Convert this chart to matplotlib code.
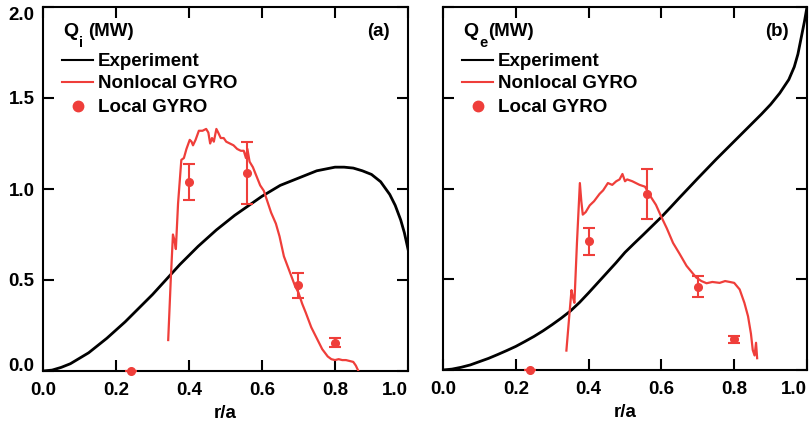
import matplotlib
matplotlib.use("Agg")
import matplotlib.pyplot as plt

plt.rcParams['font.family'] = ['Liberation Sans', 'DejaVu Sans']
plt.rcParams['font.weight'] = 'bold'

RED = '#EF3E3A'

# ---- Panel (a): ion heat flux ----
exp_a_r = [0, 0.025, 0.05, 0.075, 0.1, 0.125, 0.15, 0.175, 0.2, 0.225, 0.25, 0.275, 0.3,
           0.325, 0.35, 0.375, 0.4, 0.425, 0.45, 0.475, 0.5, 0.525, 0.55, 0.575, 0.6,
           0.625, 0.65, 0.675, 0.7, 0.725, 0.75, 0.775, 0.8, 0.825, 0.85, 0.875, 0.9,
           0.925, 0.95, 0.965, 0.98, 0.99, 1.0]
exp_a_q = [0, 0.005, 0.02, 0.04, 0.07, 0.10, 0.14, 0.18, 0.225, 0.27, 0.32, 0.37, 0.42,
           0.475, 0.53, 0.585, 0.635, 0.685, 0.73, 0.775, 0.815, 0.855, 0.89, 0.925, 0.96,
           0.99, 1.02, 1.04, 1.06, 1.08, 1.10, 1.11, 1.12, 1.12, 1.115, 1.10, 1.08,
           1.04, 0.97, 0.91, 0.83, 0.76, 0.67]

gyro_a_r = [0.343, 0.350, 0.356, 0.360, 0.364, 0.370, 0.379, 0.386, 0.393, 0.402, 0.407,
            0.411, 0.418, 0.427, 0.437, 0.447, 0.453, 0.458, 0.463, 0.468, 0.475, 0.480,
            0.487, 0.495, 0.502, 0.512, 0.522, 0.532, 0.542, 0.550, 0.556, 0.560, 0.566,
            0.575, 0.585, 0.595, 0.605, 0.615, 0.625, 0.638, 0.648, 0.660, 0.675, 0.690,
            0.700, 0.710, 0.720, 0.735, 0.750, 0.765, 0.780, 0.790, 0.800, 0.810, 0.820,
            0.830, 0.840, 0.850, 0.857, 0.864]
gyro_a_q = [0.17, 0.50, 0.75, 0.72, 0.67, 0.92, 1.16, 1.17, 1.22, 1.27, 1.26,
            1.24, 1.27, 1.32, 1.32, 1.33, 1.31, 1.25, 1.28, 1.26, 1.33, 1.31,
            1.28, 1.28, 1.26, 1.25, 1.24, 1.22, 1.21, 1.21, 1.17, 1.22, 1.15,
            1.12, 1.07, 1.02, 0.99, 0.93, 0.87, 0.81, 0.74, 0.63, 0.55, 0.47,
            0.43, 0.37, 0.32, 0.24, 0.18, 0.12, 0.08, 0.065, 0.06, 0.065, 0.06,
            0.06, 0.055, 0.05, 0.03, 0.0]

loc_a_r = [0.24, 0.40, 0.56, 0.70, 0.80]
loc_a_q = [0.0, 1.04, 1.09, 0.47, 0.155]
loc_a_err = [0.0, 0.10, 0.17, 0.07, 0.025]

# ---- Panel (b): electron heat flux ----
exp_b_r = [0, 0.025, 0.05, 0.075, 0.1, 0.125, 0.15, 0.175, 0.2, 0.225, 0.25, 0.275, 0.3,
           0.325, 0.35, 0.375, 0.4, 0.425, 0.45, 0.475, 0.5, 0.525, 0.55, 0.575, 0.6,
           0.625, 0.65, 0.675, 0.7, 0.725, 0.75, 0.775, 0.8, 0.825, 0.85, 0.875, 0.9,
           0.925, 0.95, 0.965, 0.975, 0.985, 0.993, 1.0]
exp_b_q = [0, 0.005, 0.015, 0.028, 0.046, 0.064, 0.085, 0.107, 0.13, 0.157, 0.185, 0.216,
           0.25, 0.286, 0.325, 0.372, 0.425, 0.48, 0.535, 0.59, 0.648, 0.697, 0.745, 0.794,
           0.843, 0.896, 0.95, 1.003, 1.056, 1.108, 1.16, 1.21, 1.26, 1.31, 1.36, 1.41,
           1.463, 1.525, 1.60, 1.67, 1.74, 1.84, 1.92, 2.0]

gyro_b_r = [0.339, 0.347, 0.353, 0.357, 0.361, 0.368, 0.376, 0.380, 0.384, 0.392, 0.403,
            0.415, 0.430, 0.440, 0.453, 0.465, 0.476, 0.485, 0.493, 0.500, 0.506, 0.520,
            0.540, 0.555, 0.568, 0.585, 0.600, 0.615, 0.632, 0.650, 0.669, 0.685, 0.696,
            0.710, 0.724, 0.740, 0.760, 0.775, 0.788, 0.800, 0.815, 0.828, 0.838, 0.846,
            0.851, 0.856, 0.860, 0.863]
gyro_b_q = [0.107, 0.30, 0.44, 0.40, 0.37, 0.70, 1.03, 0.93, 0.856, 0.87, 0.907,
            0.93, 0.97, 0.99, 1.03, 1.02, 1.04, 1.05, 1.08, 1.04, 1.05, 1.04,
            1.02, 1.01, 0.963, 0.91, 0.843, 0.78, 0.70, 0.64, 0.574, 0.535, 0.509,
            0.49, 0.478, 0.485, 0.48, 0.49, 0.485, 0.48, 0.444, 0.37, 0.296, 0.20,
            0.11, 0.08, 0.15, 0.065]

loc_b_r = [0.24, 0.40, 0.56, 0.70, 0.80]
loc_b_q = [0.0, 0.71, 0.97, 0.46, 0.17]
loc_b_err = [0.0, 0.075, 0.14, 0.06, 0.02]

x_ticks = [0, 0.2, 0.4, 0.6, 0.8, 1.0]
x_ticklabels = ['0.0', '0.2', '0.4', '0.6', '0.8', '1.0']
y_ticks = [0, 0.5, 1.0, 1.5, 2.0]
y_ticklabels = ['0.0', '0.5', '1.0', '1.5', '2.0']

W, H = 812, 425
fig = plt.figure(figsize=(W / 100, H / 100), dpi=100)

def px_axes(l, t, r, b):
    return fig.add_axes([l / W, 1 - b / H, (r - l) / W, (b - t) / H])

axa = px_axes(43, 7, 408, 371)
axb = px_axes(443, 7, 807, 370)

FS = 13.5

def style(ax, ylabels=True):
    ax.set_xlim(0, 1.0)
    ax.set_ylim(0, 2.0)
    ax.set_xticks(x_ticks)
    ax.set_yticks(y_ticks)
    xl = ax.set_xticklabels(x_ticklabels, fontsize=FS, fontweight='bold')
    xl[-1].set_ha('right')
    if ylabels:
        yl = ax.set_yticklabels(y_ticklabels, fontsize=FS, fontweight='bold')
        yl[0].set_va('baseline')
        yl[-1].set_va('top')
    else:
        ax.set_yticklabels([])
    ax.tick_params(direction='in', length=8, width=1.5, top=True, right=True)
    ax.tick_params(axis='x', pad=8)
    ax.tick_params(axis='y', pad=6)
    for s in ax.spines.values():
        s.set_linewidth(1.5)
    ax.set_xlabel('r/a', fontsize=FS, fontweight='bold', labelpad=4)

def panel(ax, er, eq, gr, gq, lr, lq, le, sub, tag, ylabels):
    style(ax, ylabels)
    ax.plot(er, eq, color='black', lw=2.0, zorder=3)
    ax.plot(gr, gq, color=RED, lw=1.6, zorder=4)
    ax.errorbar(lr, lq, yerr=le, fmt='o', color=RED, ms=5.5, capsize=4, capthick=1.5,
                elinewidth=1.5, zorder=5, clip_on=False)
    tr = ax.transAxes
    bb = ax.get_position()
    x0 = bb.x0 * W; y0 = (1 - bb.y1) * H; wpx = bb.width * W; hpx = bb.height * H
    def P(x, y):
        return ((x - x0) / wpx, 1 - (y - y0) / hpx)
    ax.text(*P(x0 + 20, 31), 'Q', transform=tr, fontsize=FS + 0.5, fontweight='bold', va='center', ha='left')
    ax.text(*P(x0 + 36, 43), sub, transform=tr, fontsize=FS - 3, fontweight='bold', va='center', ha='left')
    ax.text(*P(x0 + 45, 31), '(MW)', transform=tr, fontsize=FS, fontweight='bold', va='center', ha='left')
    ax.text(*P(x0 + wpx - 18, 31), tag, transform=tr, fontsize=FS, fontweight='bold', va='center', ha='right')
    for yy, lab, kind in [(61, 'Experiment', 'k'), (83, 'Nonlocal GYRO', 'r'), (107, 'Local GYRO', 'o')]:
        ly = yy - 1
        if kind == 'k':
            ax.plot([P(x0 + 19, ly)[0], P(x0 + 50, ly)[0]], [P(0, ly)[1]] * 2, color='black', lw=1.5, transform=tr)
        elif kind == 'r':
            ax.plot([P(x0 + 19, ly)[0], P(x0 + 50, ly)[0]], [P(0, ly)[1]] * 2, color=RED, lw=1.5, transform=tr)
        else:
            ax.plot([P(x0 + 35, ly)[0]], [P(0, ly)[1]], 'o', color=RED, ms=7.5, transform=tr)
        ax.text(*P(x0 + 55, yy), lab, transform=tr, fontsize=FS, fontweight='bold', va='center', ha='left')

panel(axa, exp_a_r, exp_a_q, gyro_a_r, gyro_a_q, loc_a_r, loc_a_q, loc_a_err, 'i', '(a)', True)
panel(axb, exp_b_r, exp_b_q, gyro_b_r, gyro_b_q, loc_b_r, loc_b_q, loc_b_err, 'e', '(b)', False)

fig.savefig('out.png', dpi=100)
